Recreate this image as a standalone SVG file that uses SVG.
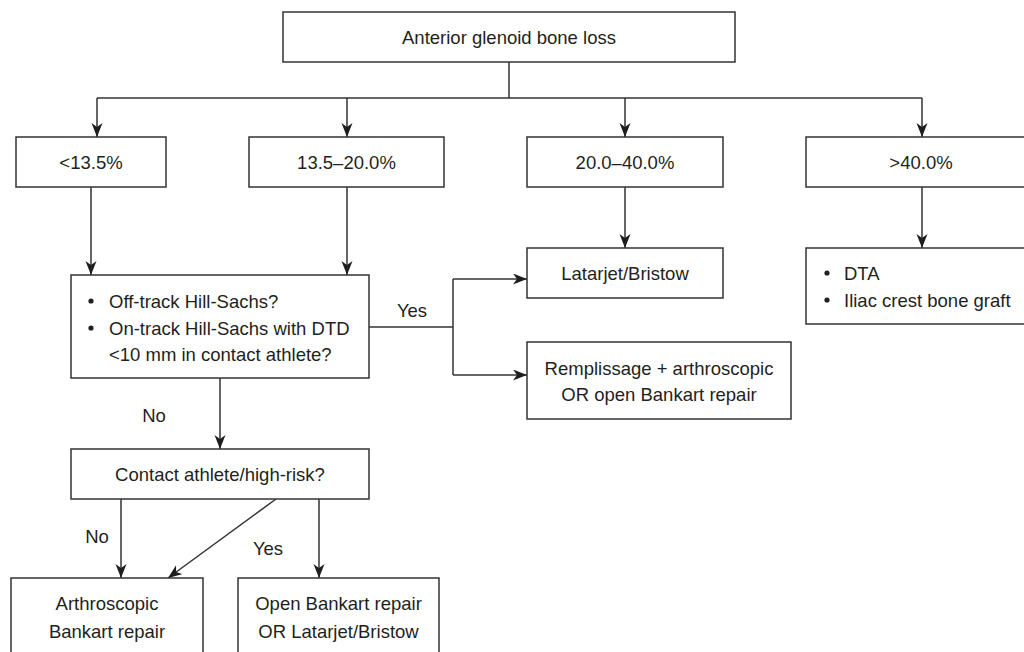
<svg xmlns="http://www.w3.org/2000/svg" width="1024" height="652" viewBox="0 0 1024 652">
<defs>
<style>
.box{fill:#fff;stroke:#333;stroke-width:1.5}
.ln{fill:none;stroke:#333;stroke-width:1.5}
text{font-family:"Liberation Sans",Arial,sans-serif;font-size:18.5px;fill:#231f20}
.c{text-anchor:middle}
</style>
<marker id="ah" markerUnits="userSpaceOnUse" markerWidth="16" markerHeight="14" refX="14" refY="5.5" orient="auto">
<path d="M0,0 L14,5.5 L0,11 L4,5.5 Z" fill="#1e1e1e"/>
</marker>
</defs>
<rect width="1024" height="652" fill="#fff"/>
<g id="connectors">
<path class="ln" d="M509,62 V98"/>
<path class="ln" d="M97,98 H922"/>
<path class="ln" d="M97,98 V137" marker-end="url(#ah)"/>
<path class="ln" d="M347,98 V137" marker-end="url(#ah)"/>
<path class="ln" d="M625,98 V137" marker-end="url(#ah)"/>
<path class="ln" d="M922,98 V137" marker-end="url(#ah)"/>
<path class="ln" d="M91,187 V275" marker-end="url(#ah)"/>
<path class="ln" d="M347,187 V275" marker-end="url(#ah)"/>
<path class="ln" d="M625,187 V248" marker-end="url(#ah)"/>
<path class="ln" d="M922,187 V248" marker-end="url(#ah)"/>
<path class="ln" d="M369,327 H453"/>
<path class="ln" d="M453,279 V375"/>
<path class="ln" d="M453,279 H527" marker-end="url(#ah)"/>
<path class="ln" d="M453,375 H527" marker-end="url(#ah)"/>
<path class="ln" d="M220,378 V449" marker-end="url(#ah)"/>
<path class="ln" d="M121,499 V578" marker-end="url(#ah)"/>
<path class="ln" d="M276,499 L168,578" marker-end="url(#ah)"/>
<path class="ln" d="M319,499 V578" marker-end="url(#ah)"/>
<text x="412" y="316.5" class="c">Yes</text>
<text x="154" y="421.5" class="c">No</text>
<text x="97" y="542.5" class="c">No</text>
<text x="268" y="554.5" class="c">Yes</text>
</g>
<g id="n-top">
<rect class="box" x="283" y="12" width="452" height="50"/>
<text x="509" y="43.5" class="c">Anterior glenoid bone loss</text>
</g>
<g id="n-lt135">
<rect class="box" x="16" y="137" width="150" height="50"/>
<text x="91" y="168.5" class="c">&lt;13.5%</text>
</g>
<g id="n-135-20">
<rect class="box" x="249" y="137" width="195" height="50"/>
<text x="346.5" y="168.5" class="c">13.5–20.0%</text>
</g>
<g id="n-20-40">
<rect class="box" x="527" y="137" width="196" height="50"/>
<text x="625" y="168.5" class="c">20.0–40.0%</text>
</g>
<g id="n-gt40">
<rect class="box" x="806" y="137" width="240" height="50"/>
<text x="921" y="168.5" class="c">&gt;40.0%</text>
</g>
<g id="n-hillsachs">
<rect class="box" x="71" y="275" width="298" height="103"/>
<circle cx="91" cy="301" r="2.6" fill="#231f20"/>
<circle cx="91" cy="328" r="2.6" fill="#231f20"/>
<text x="109" y="307.5">Off-track Hill-Sachs?</text>
<text x="109" y="334.5">On-track Hill-Sachs with DTD</text>
<text x="109" y="360.5">&lt;10 mm in contact athlete?</text>
</g>
<g id="n-latarjet">
<rect class="box" x="527" y="248" width="196" height="50"/>
<text x="625" y="279.5" class="c">Latarjet/Bristow</text>
</g>
<g id="n-remplissage">
<rect class="box" x="527" y="342" width="264" height="77"/>
<text x="659" y="374.5" class="c">Remplissage + arthroscopic</text>
<text x="659" y="400.5" class="c">OR open Bankart repair</text>
</g>
<g id="n-dta">
<rect class="box" x="806" y="248" width="240" height="76"/>
<circle cx="827" cy="273" r="2.6" fill="#231f20"/>
<circle cx="827" cy="300" r="2.6" fill="#231f20"/>
<text x="844" y="279.5">DTA</text>
<text x="844" y="306.5">Iliac crest bone graft</text>
</g>
<g id="n-contact">
<rect class="box" x="71" y="449" width="298" height="50"/>
<text x="220" y="480.5" class="c">Contact athlete/high-risk?</text>
</g>
<g id="n-arthroscopic">
<rect class="box" x="11" y="578" width="192" height="90"/>
<text x="107" y="609.5" class="c">Arthroscopic</text>
<text x="107" y="637.5" class="c">Bankart repair</text>
</g>
<g id="n-open">
<rect class="box" x="238" y="578" width="201" height="90"/>
<text x="338.5" y="609.5" class="c">Open Bankart repair</text>
<text x="338.5" y="637.5" class="c">OR Latarjet/Bristow</text>
</g>
</svg>
